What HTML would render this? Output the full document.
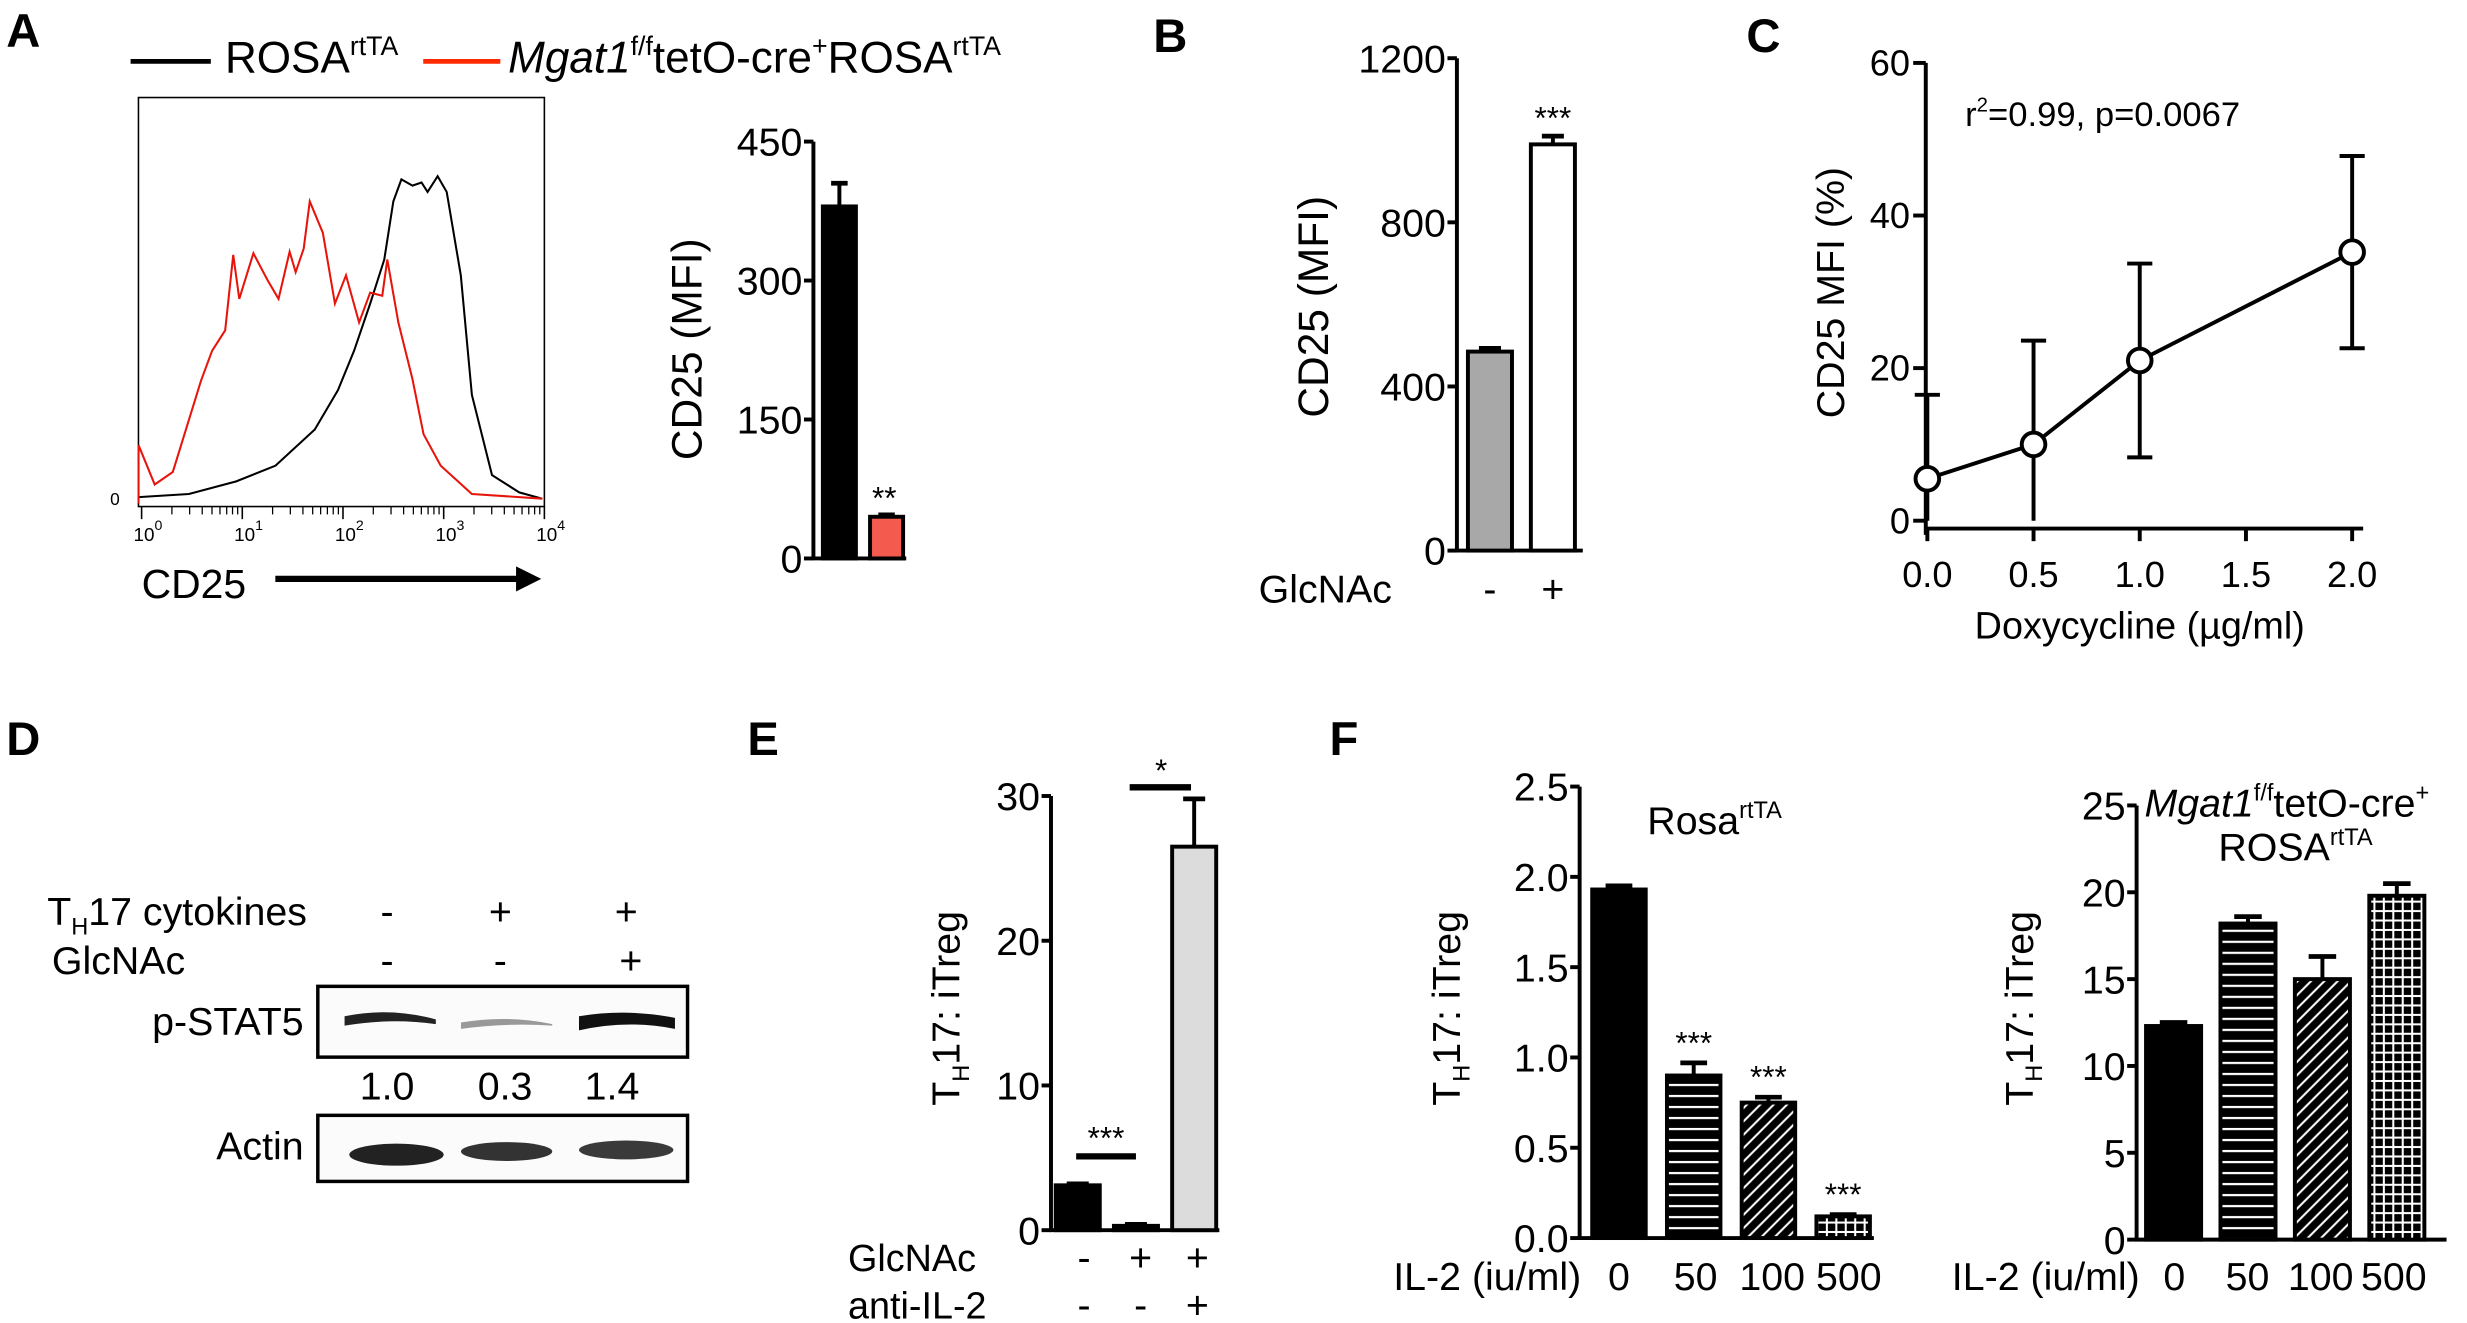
<!DOCTYPE html>
<html><head><meta charset="utf-8"><title>Figure</title>
<style>
html,body{margin:0;padding:0;background:#fff;}
svg{display:block;}
text{font-family:"Liberation Sans Narrow","Liberation Sans",sans-serif;fill:#000;}
.reg{font-family:"Liberation Sans",sans-serif;}
.lbl{font-family:"Liberation Sans",sans-serif;font-weight:bold;font-size:30px;}
</style></head>
<body>
<svg id="fig" xmlns="http://www.w3.org/2000/svg" width="2467" height="1323" viewBox="0 0 1568 841" preserveAspectRatio="none">
<defs>
<pattern id="hstripe" width="6" height="7" patternUnits="userSpaceOnUse"><rect width="6" height="7" fill="#000"/><rect y="3" width="6" height="1.4" fill="#fff"/></pattern>
<pattern id="diag" width="6" height="6" patternUnits="userSpaceOnUse" patternTransform="rotate(45)"><rect width="6" height="6" fill="#000"/><rect x="3" width="1.3" height="6" fill="#fff"/></pattern>
<pattern id="grid" width="6" height="6" patternUnits="userSpaceOnUse"><rect width="6" height="6" fill="#000"/><rect x="2.5" width="1.3" height="6" fill="#fff"/><rect y="2.5" width="6" height="1.3" fill="#fff"/></pattern>
</defs>

<!-- Panel letters -->
<text class="lbl" x="4" y="30">A</text>
<text class="lbl" x="733" y="33">B</text>
<text class="lbl" x="1110" y="33">C</text>
<text class="lbl" x="4" y="480">D</text>
<text class="lbl" x="475" y="480">E</text>
<text class="lbl" x="845" y="480">F</text>

<!-- Panel A legend -->
<g>
<line x1="83" y1="39" x2="134" y2="39" stroke="#000" stroke-width="3"/>
<text x="143" y="46" font-size="28">ROSA<tspan font-size="17" dy="-11">rtTA</tspan></text>
<line x1="269" y1="39" x2="318" y2="39" stroke="#ff2a00" stroke-width="3"/>
<text x="323" y="46" font-size="28"><tspan font-style="italic">Mgat1</tspan><tspan font-size="17" dy="-11">f/f</tspan><tspan dy="11">tetO-cre</tspan><tspan font-size="17" dy="-11">+</tspan><tspan dy="11">ROSA</tspan><tspan font-size="17" dy="-11">rtTA</tspan></text>
</g>

<!-- Panel A histogram frame -->
<rect x="88" y="62" width="258" height="260" fill="none" stroke="#000" stroke-width="1"/>
<text x="70" y="321" font-size="11">0</text>
<text x="90" y="380" font-size="26" class="reg">CD25</text>
<line x1="175" y1="368" x2="330" y2="368" stroke="#000" stroke-width="4"/>
<polygon points="328,360 344,368 328,376" fill="#000"/>
<g id="histG"></g>

<!-- Panel A bar -->
<text transform="translate(446,222) rotate(-90)" text-anchor="middle" font-size="27" class="reg">CD25 (MFI)</text>
<g id="barA"></g>

<!-- Panel B -->
<text transform="translate(844,195) rotate(-90)" text-anchor="middle" font-size="27" class="reg">CD25 (MFI)</text>
<text x="800" y="383" font-size="25" class="reg">GlcNAc</text>
<g id="barB"></g>

<!-- Panel C -->
<text transform="translate(1172,186) rotate(-90)" text-anchor="middle" font-size="25" class="reg">CD25 MFI (%)</text>
<text x="1360" y="406" text-anchor="middle" font-size="24" class="reg">Doxycycline (µg/ml)</text>
<text x="1249" y="80" font-size="22" class="reg">r<tspan font-size="13" dy="-9">2</tspan><tspan dy="9">=0.99, p=0.0067</tspan></text>
<g id="lineC"></g>

<!-- Panel D western blot -->
<g>
<text x="30" y="588" font-size="25">T<tspan font-size="15" dy="6">H</tspan><tspan dy="-6">17 cytokines</tspan></text>
<text x="33" y="619" font-size="25">GlcNAc</text>
<text x="246" y="588" font-size="25" text-anchor="middle">-</text>
<text x="318" y="588" font-size="25" text-anchor="middle">+</text>
<text x="398" y="588" font-size="25" text-anchor="middle">+</text>
<text x="246" y="619" font-size="25" text-anchor="middle">-</text>
<text x="318" y="619" font-size="25" text-anchor="middle">-</text>
<text x="401" y="619" font-size="25" text-anchor="middle">+</text>
<text x="193" y="658" font-size="25" text-anchor="end">p-STAT5</text>
<rect x="202" y="627" width="235" height="45" fill="#fbfbfb" stroke="#000" stroke-width="2.2"/>
<path d="M219,646 Q248,640 277,648 L277,651 Q248,647 219,652 Z" fill="#222"/>
<path d="M293,650 Q322,645 351,651 L351,652 Q322,650 293,654 Z" fill="#999"/>
<path d="M368,646 Q398,641 429,647 L429,654 Q398,648 368,655 Z" fill="#111"/>
<text x="246" y="699" font-size="25" text-anchor="middle">1.0</text>
<text x="321" y="699" font-size="25" text-anchor="middle">0.3</text>
<text x="389" y="699" font-size="25" text-anchor="middle">1.4</text>
<text x="193" y="737" font-size="25" text-anchor="end">Actin</text>
<rect x="202" y="709" width="235" height="42" fill="#fbfbfb" stroke="#000" stroke-width="2.2"/>
<ellipse cx="252" cy="734" rx="30" ry="7" fill="#222"/>
<ellipse cx="322" cy="732" rx="29" ry="6" fill="#333"/>
<ellipse cx="398" cy="731" rx="30" ry="6" fill="#3a3a3a"/>
</g>

<!-- Panel E -->
<text transform="translate(610,641) rotate(-90)" text-anchor="middle" font-size="25" class="reg">T<tspan font-size="15" dy="6">H</tspan><tspan dy="-6">17: iTreg</tspan></text>
<text x="539" y="808" font-size="24">GlcNAc</text>
<text x="539" y="838" font-size="24">anti-IL-2</text>
<g id="barE"></g>

<!-- Panel F -->
<text transform="translate(928,641) rotate(-90)" text-anchor="middle" font-size="25" class="reg">T<tspan font-size="15" dy="6">H</tspan><tspan dy="-6">17: iTreg</tspan></text>
<text x="1047" y="530" font-size="25">Rosa<tspan font-size="15" dy="-10">rtTA</tspan></text>
<text x="1005" y="820" font-size="25" text-anchor="end">IL-2 (iu/ml)</text>
<g id="barF1"></g>

<text transform="translate(1292,641) rotate(-90)" text-anchor="middle" font-size="25" class="reg">T<tspan font-size="15" dy="6">H</tspan><tspan dy="-6">17: iTreg</tspan></text>
<text x="1363" y="519" font-size="25"><tspan font-style="italic">Mgat1</tspan><tspan font-size="15" dy="-10">f/f</tspan><tspan dy="10">tetO-cre</tspan><tspan font-size="15" dy="-10">+</tspan></text>
<text x="1410" y="547" font-size="25">ROSA<tspan font-size="15" dy="-10">rtTA</tspan></text>
<text x="1360" y="820" font-size="25" text-anchor="end">IL-2 (iu/ml)</text>
<g id="barF2"></g>
</svg>

<script>
// ---------- DATA ----------
const histBlackX = [-0.03,0.47,0.94,1.33,1.72,1.95,2.11,2.27,2.41,2.5,2.58,2.69,2.78,2.84,2.94,3.03,3.17,3.28,3.48,3.75,3.98];
const histBlackY = [4,6,14,24,47,72,97,127,155,192,206,202,204,198,208,198,145,69,18,7,3];
const histRedX = [-0.03,-0.03,0.13,0.31,0.45,0.59,0.70,0.83,0.91,0.97,1.11,1.25,1.36,1.47,1.53,1.61,1.67,1.80,1.92,2.03,2.16,2.27,2.39,2.44,2.55,2.69,2.80,2.97,3.28,3.98];
const histRedY = [0,37,12,20,49,78,97,110,158,130,159,142,130,160,147,162,192,172,127,145,115,134,132,155,115,79,44,24,6,3];
const histTicks = [0,1,2,3,4];
const aCats = ['ROSA','Mgat1'];
const aVals = [380,45];
const aErrs = [25,2];
const aTicks = [0,150,300,450];
const bCats = ['-','+'];
const bVals = [485,990];
const bErrs = [8,20];
const bTicks = [0,400,800,1200];
const cDoses = [0,0.5,1.0,2.0];
const cVals = [5.5,10,21,35.2];
const cErrs = [11,13.6,12.7,12.6];
const cYTicks = [0,20,40,60];
const cXTicks = [0,0.5,1.0,1.5,2.0];
const eGlc = ['-','+','+'];
const eAnti = ['-','-','+'];
const eVals = [3.1,0.3,26.5];
const eErrs = [0.1,0.1,3.3];
const eTicks = [0,10,20,30];
const fCats = ['0','50','100','500'];
const f1Vals = [1.93,0.90,0.75,0.12];
const f1Errs = [0.02,0.07,0.03,0.01];
const f1Ticks = ['0.0','0.5','1.0','1.5','2.0','2.5'];
const f2Vals = [12.3,18.2,15.0,19.8];
const f2Errs = [0.2,0.4,1.3,0.7];
const f2Ticks = [0,5,10,15,20,25];

// ---------- HELPERS ----------
const NS = 'http://www.w3.org/2000/svg';
function mk(tag, attrs, parent){
  const el = document.createElementNS(NS, tag);
  for (const k in attrs) el.setAttribute(k, attrs[k]);
  parent.appendChild(el);
  return el;
}
function line(p, x1,y1,x2,y2,w,name){
  const el = mk('line',{x1:x1,y1:y1,x2:x2,y2:y2,stroke:'#000','stroke-width':w},p);
  
  
  return el;
}
function txt(p, x,y,s,size,anchor,name,cls){
  const el = mk('text',{x:x,y:y,'font-size':size,'text-anchor':anchor},p);
  if (cls) el.setAttribute('class', cls);
  el.textContent = s;
  
  
  return el;
}
function yAxis(p, x, top, bottom, ticks, scale, size, prefix, cls){
  line(p, x, top, x, bottom, 2.5, prefix+'-y-axis');
  ticks.forEach(function(t){
    const y = scale(parseFloat(t));
    line(p, x-6, y, x, y, 2.5, prefix+'-y-tick');
    txt(p, x-7, y+size*0.36, String(t), size, 'end', prefix+'-y-tick-label', cls);
  });
}
function bars(p, vals, errs, x0, step, w, scale, fills, prefix){
  vals.forEach(function(v,i){
    const x = x0 + i*step;
    const y = scale(v), y0 = scale(0);
    const r = mk('rect',{x:x,y:y,width:w,height:Math.max(0,y0-y),fill:fills[i],stroke:'#000','stroke-width':2.5},p);
    
    
    const ye = scale(v+errs[i]);
    line(p, x+w/2, y, x+w/2, ye, 2.5, prefix+'-error-bar');
    line(p, x+w/2-w*0.25, ye, x+w/2+w*0.25, ye, 3, prefix+'-error-cap');
  });
}

// ---------- PANEL A HISTOGRAM ----------
(function(){
  const g = document.getElementById('histG');
  const xH = l => 90 + l*64;
  const yH = c => 320 - c;
  histTicks.forEach(function(t,i){
    line(g, xH(t), 322, xH(t), 330, 1, 'histogram-major-tick');
    const lt = mk('text',{x:xH(t)+4,y:344,'font-size':12,'text-anchor':'middle'},g);
    lt.innerHTML = '10<tspan font-size="9" dy="-7">'+t+'</tspan>';
    
    
    if (i < histTicks.length-1){
      for (let m=2;m<=9;m++){
        const xm = xH(t+Math.log10(m));
        line(g, xm, 322, xm, 327, 0.8, 'histogram-minor-tick');
      }
    }
  });
  const pb = mk('polyline',{points:histBlackX.map((x,i)=>xH(x)+','+yH(histBlackY[i])).join(' '),fill:'none',stroke:'#000','stroke-width':1.3},g);
  
  
  const pr = mk('polyline',{points:histRedX.map((x,i)=>xH(x)+','+yH(histRedY[i])).join(' '),fill:'none',stroke:'#e8140c','stroke-width':1.3},g);
  
  
})();

// ---------- PANEL A BARS ----------
(function(){
  const g = document.getElementById('barA');
  const y = v => 355 - v*(265/450);
  yAxis(g, 517, y(450), 355, aTicks, y, 25, 'a');
  line(g, 516, 355, 576, 355, 2.5, 'a-x-axis');
  bars(g, aVals, aErrs, 523, 30, 21, y, ['#000','#f55a4e'], 'a');
  txt(g, 562, y(aVals[1]+aErrs[1])-4, '**', 20, 'middle', 'a-significance');
})();

// ---------- PANEL B ----------
(function(){
  const g = document.getElementById('barB');
  const y = v => 350 - v*(313/1200);
  yAxis(g, 926, y(1200), 350, bTicks, y, 25, 'b');
  line(g, 925, 350, 1006, 350, 2.5, 'b-x-axis');
  bars(g, bVals, bErrs, 933, 40, 28, y, ['#a8a8a8','#fff'], 'b');
  txt(g, 987, y(bVals[1]+bErrs[1])-5, '***', 20, 'middle', 'b-significance');
  bCats.forEach(function(c,i){ txt(g, 947+i*40, 383, c, 25, 'middle', 'b-x-category'); });
})();

// ---------- PANEL C ----------
(function(){
  const g = document.getElementById('lineC');
  const x = v => 1225 + v*135;
  const y = v => 331 - v*(291/60);
  line(g, 1224, y(60), 1224, 340, 2.5, 'c-y-axis');
  cYTicks.forEach(function(t){
    line(g, 1216, y(t), 1224, y(t), 2.5, 'c-y-tick');
    txt(g, 1214, y(t)+8, String(t), 23, 'end', 'c-y-tick-label', 'reg');
  });
  line(g, 1224, 336, 1502, 336, 2.5, 'c-x-axis');
  cXTicks.forEach(function(t){
    line(g, x(t), 336, x(t), 344, 2.5, 'c-x-tick');
    txt(g, x(t), 373, t.toFixed(1), 23, 'middle', 'c-x-tick-label', 'reg');
  });
  cDoses.forEach(function(d,i){
    const top = y(cVals[i]+cErrs[i]);
    const bot = y(Math.max(0, cVals[i]-cErrs[i]));
    line(g, x(d), top, x(d), bot, 2.5, 'c-error-bar');
    line(g, x(d)-8, top, x(d)+8, top, 2.5, 'c-error-cap');
    if (cVals[i]-cErrs[i] > 0) line(g, x(d)-8, bot, x(d)+8, bot, 2.5, 'c-error-cap');
  });
  const pl = mk('polyline',{points:cDoses.map((d,i)=>x(d)+','+y(cVals[i])).join(' '),fill:'none',stroke:'#000','stroke-width':2.5},g);
  
  
  cDoses.forEach(function(d,i){
    const c = mk('circle',{cx:x(d),cy:y(cVals[i]),r:7.5,fill:'#fff',stroke:'#000','stroke-width':2.5},g);
    
    
  });
})();

// ---------- PANEL E ----------
(function(){
  const g = document.getElementById('barE');
  const y = v => 782 - v*(276/30);
  yAxis(g, 668, y(30), 782, eTicks, y, 25, 'e');
  line(g, 667, 782, 775, 782, 2.5, 'e-x-axis');
  bars(g, eVals, eErrs, 671, 37, 28, y, ['#000','#000','#dcdcdc'], 'e');
  line(g, 684, y(5.1), 722, y(5.1), 4, 'e-significance-bar-1');
  txt(g, 703, y(5.1)-5, '***', 20, 'middle', 'e-significance-1');
  line(g, 718, y(30.6), 757, y(30.6), 4, 'e-significance-bar-2');
  txt(g, 738, y(30.6)-4, '*', 20, 'middle', 'e-significance-2');
  eGlc.forEach(function(c,i){ txt(g, 689+i*36, 808, c, 25, 'middle', 'e-glcnac-category'); });
  eAnti.forEach(function(c,i){ txt(g, 689+i*36, 838, c, 25, 'middle', 'e-anti-il2-category'); });
})();

// ---------- PANEL F1 ----------
(function(){
  const g = document.getElementById('barF1');
  const y = v => 787 - v*(287/2.5);
  yAxis(g, 1004, y(2.5), 787, f1Ticks, y, 25, 'f1');
  line(g, 1003, 787, 1191, 787, 2.5, 'f1-x-axis');
  bars(g, f1Vals, f1Errs, 1012, 47.5, 34, y, ['#000','url(#hstripe)','url(#diag)','url(#grid)'], 'f1');
  [1,2,3].forEach(function(i){
    txt(g, 1012+i*47.5+17, y(f1Vals[i]+f1Errs[i])-6, '***', 20, 'middle', 'f1-significance');
  });
  fCats.forEach(function(c,i){ txt(g, 1029+i*48.7, 820, c, 25, 'middle', 'f1-x-category'); });
})();

// ---------- PANEL F2 ----------
(function(){
  const g = document.getElementById('barF2');
  const y = v => 788 - v*(276/25);
  yAxis(g, 1358, y(25), 788, f2Ticks, y, 25, 'f2');
  line(g, 1357, 788, 1555, 788, 2.5, 'f2-x-axis');
  bars(g, f2Vals, f2Errs, 1364, 47.3, 35, y, ['#000','url(#hstripe)','url(#diag)','url(#grid)'], 'f2');
  fCats.forEach(function(c,i){ txt(g, 1382+i*46.5, 820, c, 25, 'middle', 'f2-x-category'); });
})();
</script>
</body></html>
